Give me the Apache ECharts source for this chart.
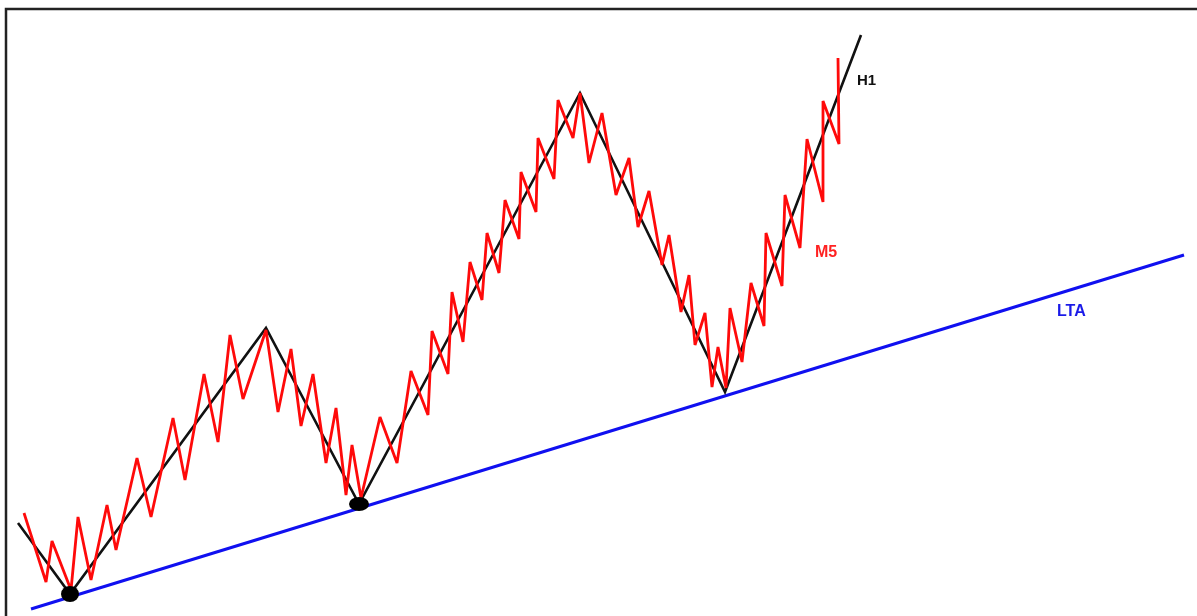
<!DOCTYPE html>
<html>
<head>
<meta charset="utf-8">
<script src="https://cdn.jsdelivr.net/npm/echarts@6/dist/echarts.min.js"></script>
<style>
  html, body { margin: 0; padding: 0; background: #fff; }
  #chart { width: 1197px; height: 616px; }
</style>
</head>
<body>
<div id="chart"></div>
<script>
// Higher timeframe swing structure (H1): time, price
const h1Time  = [18, 70, 266, 359, 580, 725, 861];
const h1Price = [93, 22, 288, 112, 523, 224, 581];

// Lower timeframe swings (M5): time, price
const m5Time = [24, 46, 52, 71, 78, 91, 107, 116, 137, 151, 173, 185, 204, 218, 230, 243,
  266, 278, 291, 301, 313, 326, 336, 346, 352, 361, 380, 397, 411, 428, 432, 448, 452, 463,
  470, 482, 487, 499, 505, 519, 521, 536, 538, 554, 558, 573, 580, 589, 602, 616, 629, 638,
  649, 662, 669, 681, 689, 695, 705, 712, 718, 726, 730, 742, 751, 764, 766, 782, 785, 800,
  807, 823, 823, 839, 838];
const m5Price = [103, 34, 75, 26, 99, 36, 111, 66, 158, 99, 198, 136, 242, 174, 281, 217,
  286, 204, 267, 190, 242, 153, 208, 121, 171, 118, 199, 153, 245, 201, 285, 242, 324, 274,
  354, 316, 383, 343, 416, 377, 444, 404, 478, 437, 516, 478, 523, 453, 503, 421, 458, 389,
  425, 351, 381, 304, 341, 271, 303, 229, 269, 228, 308, 254, 333, 290, 383, 330, 421, 368,
  477, 414, 515, 472, 558];

// Rising trendline (LTA) endpoints
const ltaTime  = [31, 1184];
const ltaPrice = [7, 361];

// Swing lows of H1 that touch the trendline
const touchIdx = [1, 3];

const zip = (xs, ys) => xs.map((x, i) => [x, ys[i]]);

const chart = echarts.init(document.getElementById('chart'), null, { renderer: 'canvas' });

chart.setOption({
  animation: false,
  backgroundColor: '#ffffff',
  grid: { left: 0, right: 0, top: 0, bottom: 0 },
  xAxis: { type: 'value', min: 0, max: 1197, show: false },
  yAxis: { type: 'value', min: 0, max: 616, show: false },
  series: [
    {
      name: 'LTA', type: 'line', data: zip(ltaTime, ltaPrice),
      symbol: 'none', silent: true, z: 2,
      lineStyle: { color: '#1010f0', width: 3 }
    },
    {
      name: 'H1', type: 'line', data: zip(h1Time, h1Price),
      symbol: 'none', silent: true, z: 3,
      lineStyle: { color: '#111111', width: 2.6, join: 'miter', miterLimit: 4 }
    },
    {
      name: 'M5', type: 'line', data: zip(m5Time, m5Price),
      symbol: 'none', silent: true, z: 4,
      lineStyle: { color: '#ff0a0a', width: 2.8, join: 'miter', miterLimit: 3 }
    },
    {
      name: 'touches', type: 'scatter', silent: true, z: 5,
      data: touchIdx.map((i, k) => ({
        value: [h1Time[i], h1Price[i]],
        symbolSize: k === 0 ? [18, 16] : [20, 14]
      })),
      symbol: 'circle',
      itemStyle: { color: '#000000', opacity: 1 }
    }
  ],
  graphic: [
    {
      type: 'polyline', silent: true, z: 10,
      shape: { points: [[6, 616], [6, 9], [1197, 9]] },
      style: { stroke: '#222222', lineWidth: 2.5, fill: null }
    },
    {
      type: 'text', left: 857, top: 73, silent: true,
      style: { text: 'H1', font: 'bold 15px "Liberation Sans", Arial, sans-serif', fill: '#111111' }
    },
    {
      type: 'text', left: 815, top: 245, silent: true,
      style: { text: 'M5', font: 'bold 16px "Liberation Sans", Arial, sans-serif', fill: '#ff2222' }
    },
    {
      type: 'text', left: 1057, top: 304, silent: true,
      style: { text: 'LTA', font: 'bold 16px "Liberation Sans", Arial, sans-serif', fill: '#1a1ae8' }
    }
  ]
});
</script>
</body>
</html>
